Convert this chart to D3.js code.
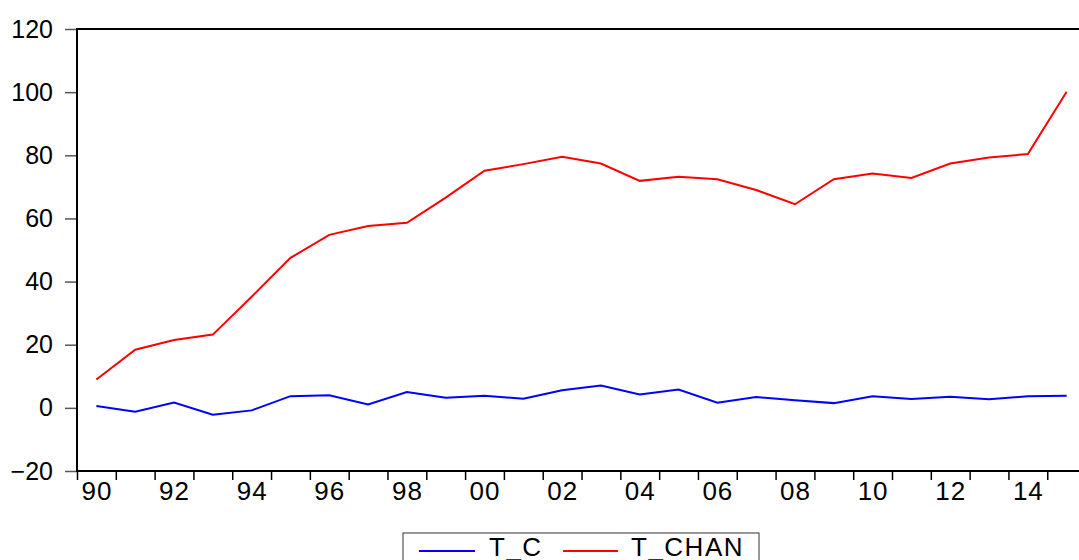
<!DOCTYPE html>
<html lang="en"><head>
<meta charset="utf-8">
<title>T_C and T_CHAN</title>
<script src="https://cdn.jsdelivr.net/npm/d3@7/dist/d3.min.js"></script>
<style>
  body { margin: 0; background: #fff; }
  text { font-family: "Liberation Sans", Arial, sans-serif; }
</style>
</head>
<body>
<script type="text/javascript">

var width = 1079;
var height = 560;

// data
var years = d3.range(1990, 2016);
var tC = [0.6, -1.2, 1.7, -2.2, -0.8, 3.7, 4.0, 1.1, 5.0, 3.2,
          3.8, 2.9, 5.6, 7.1, 4.2, 5.8, 1.6, 3.4, 2.4, 1.5,
          3.7, 2.8, 3.5, 2.7, 3.7, 3.8];
var tChan = [9.0, 18.4, 21.5, 23.2, 35.2, 47.5, 54.8, 57.6, 58.6, 66.6,
             75.1, 77.2, 79.5, 77.4, 71.9, 73.2, 72.4, 69.0, 64.5, 72.4,
             74.2, 72.8, 77.4, 79.3, 80.4, 100.1];
var yTicks = [-20, 0, 20, 40, 60, 80, 100, 120];
var labelYears = d3.range(1990, 2016, 2);
var seriesNames = ["T_C", "T_CHAN"];
var seriesColors = ["#0000ff", "#ff0000"];

var svg = d3.select("body").append("svg")
            .attr("width", width)
            .attr("height", height);

var plotLeft = 77, plotTop = 29, plotBottom = 471;
var x = d3.scaleLinear().domain([1990, 2016]).range([plotLeft, plotLeft + 26 * 38.81]);
var y = d3.scaleLinear().domain([-20, 120]).range([plotBottom, plotTop]);

// y axis
var yAxis = svg.append("g")
    .attr("transform", "translate(" + plotLeft + ",0)")
    .call(d3.axisLeft(y).tickValues(yTicks).tickSize(12).tickPadding(12));
yAxis.select(".domain").remove();
yAxis.selectAll("line").attr("stroke", "#555").attr("stroke-width", 1.5);
yAxis.selectAll("text").attr("font-size", 25).attr("fill", "#000")
    .attr("font-family", "Liberation Sans, Arial, sans-serif");

// x axis tick marks (year boundaries)
var xAxis = svg.append("g")
    .attr("transform", "translate(0," + plotBottom + ")")
    .call(d3.axisBottom(x).tickValues(d3.range(1990, 2017)).tickSize(9).tickFormat(""));
xAxis.select(".domain").remove();
xAxis.selectAll("line").attr("stroke", "#000").attr("stroke-width", 1.5);

// x labels (mid-year)
var xLab = svg.append("g")
    .attr("transform", "translate(0," + plotBottom + ")")
    .call(d3.axisBottom(x).tickValues(labelYears.map(function(d) { return d + 0.5; }))
        .tickSize(0).tickPadding(11)
        .tickFormat(function(d) { return String(Math.floor(d) % 100).padStart(2, "0"); }));
xLab.select(".domain").remove();
xLab.selectAll("text").attr("font-size", 26).attr("fill", "#000")
    .attr("letter-spacing", 1)
    .attr("font-family", "Liberation Sans, Arial, sans-serif");

// frame
svg.append("rect")
    .attr("x", plotLeft).attr("y", plotTop)
    .attr("width", x(2016) - plotLeft).attr("height", plotBottom - plotTop)
    .attr("fill", "none").attr("stroke", "#000").attr("stroke-width", 2);

// lines
var line = d3.line()
    .x(function(d, i) { return x(years[i] + 0.5); })
    .y(function(d) { return y(d); });

[tC, tChan].forEach(function(s, k) {
    svg.append("path")
        .datum(s)
        .attr("d", line)
        .attr("fill", "none")
        .attr("stroke", seriesColors[k])
        .attr("stroke-width", 2);
});

// legend
var legend = svg.append("g");
legend.append("rect")
    .attr("x", 403).attr("y", 533).attr("width", 356).attr("height", 40)
    .attr("fill", "#fff").attr("stroke", "#333").attr("stroke-width", 1);
var legendX = [[419, 475, 489], [563, 618, 631]];
seriesNames.forEach(function(name, k) {
    legend.append("line")
        .attr("x1", legendX[k][0]).attr("x2", legendX[k][1])
        .attr("y1", 551).attr("y2", 551)
        .attr("stroke", seriesColors[k]).attr("stroke-width", 2);
    legend.append("text")
        .attr("x", legendX[k][2]).attr("y", 556)
        .attr("font-size", 26).attr("letter-spacing", 1.5).attr("fill", "#000")
        .text(name);
});

</script>
</body></html>
